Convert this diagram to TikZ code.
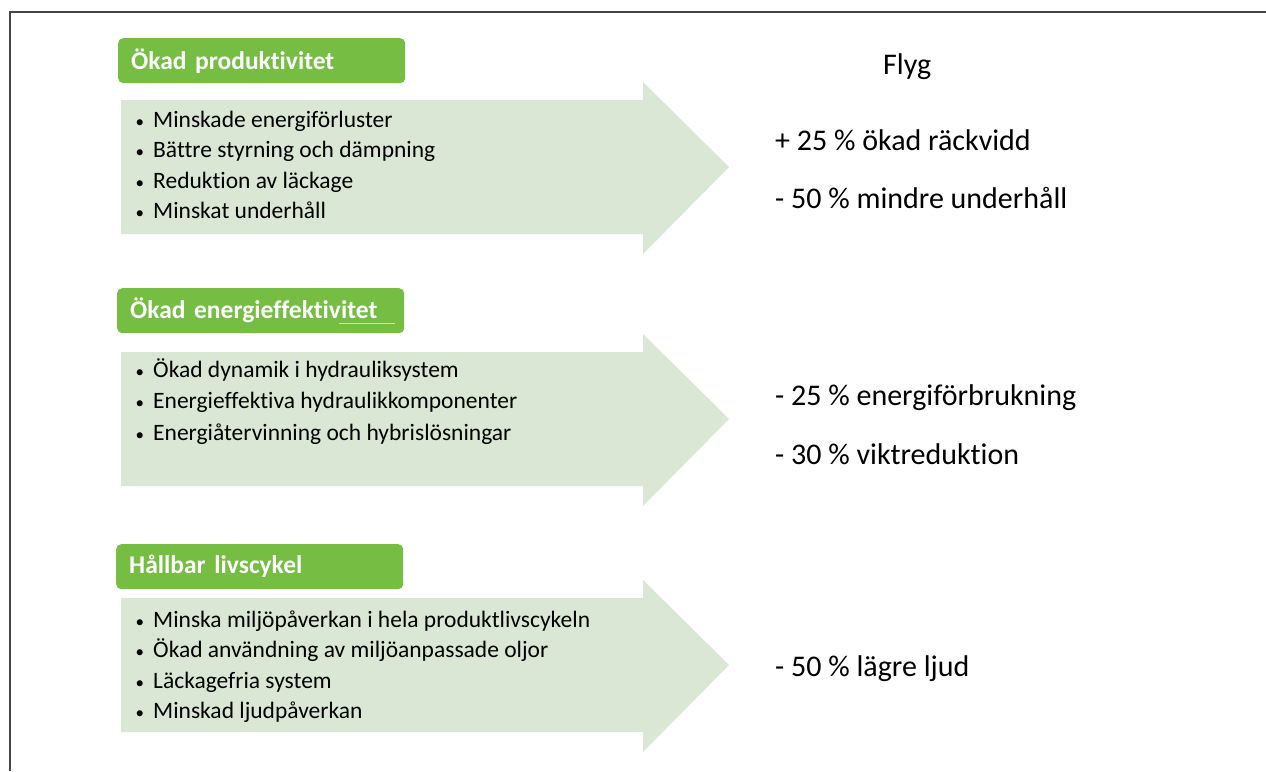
\documentclass[tikz,border=0pt]{standalone}
\usepackage{fontspec}
\setmainfont{Carlito}[Ligatures=NoCommon]
\usetikzlibrary{positioning}
\definecolor{headgreen}{RGB}{118,189,67}
\definecolor{arrowgreen}{RGB}{218,231,212}
\definecolor{framegray}{RGB}{70,70,70}
\newcommand{\smallbullet}{\llap{{\fontsize{17}{17}\selectfont\textbullet}\hspace{9pt}}}

\begin{document}
\begin{tikzpicture}[x=1pt,y=-1pt,
  head/.style={fill=headgreen,rounded corners=5pt,anchor=north west,
               minimum height=45pt,text width=261pt,inner xsep=13pt,
               align=left,text=white,font=\fontsize{25.5}{28}\selectfont\bfseries},
  item/.style={anchor=base west,inner sep=0pt,font=\fontsize{23.5}{28}\selectfont},
  result/.style={anchor=base west,inner sep=0pt,font=\fontsize{30}{34}\selectfont}
]
\useasboundingbox (0,0) rectangle (1266,771);
\draw[framegray,line width=1.5pt] (1266,12) -- (10,12) -- (10,771);

% big pale arrows
\foreach \top in {100,352,598}
  \fill[arrowgreen] (121,\top) -- (643,\top) -- (643,\top-18) -- (729,\top+67)
    -- (643,\top+154) -- (643,\top+134) -- (121,\top+134) -- cycle;

% headers
\node[head] (prodhead) at (118,38) {Ökad produktivitet};
\node[head] (energyhead) at (117,288) {Ökad energieffektivitet};
\node[head] (lifehead) at (116,544) {Hållbar livscykel};
\draw[white!60!headgreen,line width=0.6pt] (339,323) -- (395,323);

% bullet lists
\foreach \t [count=\i] in {Minskade energiförluster,Bättre styrning och dämpning,
    Reduktion av läckage,Minskat underhåll}
  \node[item] (prod\i) at (153,{127+(\i-1)*30.5}) {\smallbullet\t};
\foreach \t [count=\i] in {Ökad dynamik i hydrauliksystem,Energieffektiva hydraulikkomponenter,
    Energiåtervinning och hybrislösningar}
  \node[item] (energy\i) at (153,{377+(\i-1)*31.5}) {\smallbullet\t};
\foreach \t [count=\i] in {Minska miljöpåverkan i hela produktlivscykeln,
    Ökad användning av miljöanpassade oljor,Läckagefria system,Minskad ljudpåverkan}
  \node[item] (life\i) at (153,{627+(\i-1)*30.5}) {\smallbullet\t};

% results
\node[result] (flyg) at (883,74) {Flyg};
\node[result] (range) at (775,150) {+ 25 \% ökad räckvidd};
\node[result] (maint) at (775,208) {- 50 \% mindre underhåll};
\node[result] (power) at (775,405) {- 25 \% energiförbrukning};
\node[result] (weight) at (775,464) {- 30 \% viktreduktion};
\node[result] (noise) at (775,676) {- 50 \% lägre ljud};
\end{tikzpicture}
\end{document}
